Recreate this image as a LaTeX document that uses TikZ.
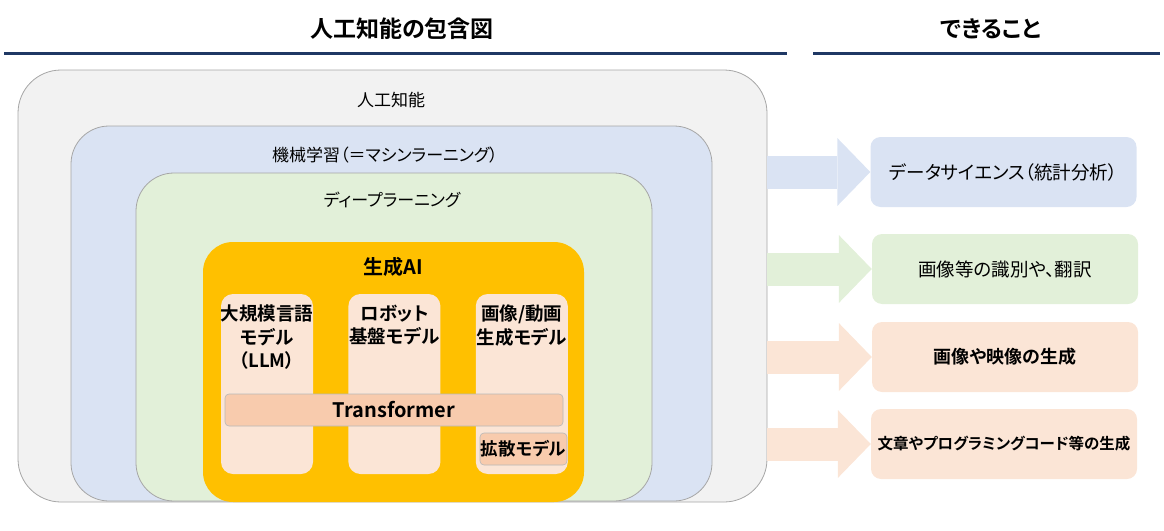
\documentclass[tikz,border=0pt]{standalone}
\usepackage{fontspec}
\setmainfont{Noto Sans CJK JP}[BoldFont={Noto Sans CJK JP Bold},RawFeature={+palt}]
\usetikzlibrary{positioning,arrows.meta}

\definecolor{navy}{HTML}{1F3864}
\definecolor{lineG}{HTML}{A6A6A6}
\definecolor{greyF}{HTML}{F2F2F2}
\definecolor{blueF}{HTML}{DAE3F3}
\definecolor{greenF}{HTML}{E2F0D9}
\definecolor{goldF}{HTML}{FFC000}
\definecolor{peachF}{HTML}{FBE5D6}
\definecolor{peachD}{HTML}{F8CBAD}

\begin{document}
\begin{tikzpicture}[x=1pt,y=-1pt,
  heading/.style={inner sep=0pt,font=\bfseries\fontsize{23}{26}\selectfont},
  area/.style={draw=lineG,line width=0.8pt,rounded corners=#1},
  lbl/.style={inner sep=0pt,font=\fontsize{17}{20}\selectfont},
  model/.style={fill=peachF,rounded corners=12pt,minimum width=92pt,minimum height=180pt},
  mtxt/.style={inner sep=0pt,align=center,font=\bfseries\fontsize{18.5}{23.5}\selectfont},
  bar/.style={fill=peachD,draw=lineG!80,line width=0.6pt,rounded corners=4pt,inner sep=0pt,minimum height=32pt},
  task/.style={rounded corners=10pt,minimum width=266pt,minimum height=70pt,inner sep=0pt,font=\fontsize{18.5}{22}\selectfont},
  bold/.style={font=\bfseries\fontsize{#1}{22}\selectfont},
  bigarrow/.style={line width=33pt,draw=#1,-{Triangle[length=33pt,width=68pt,line width=0pt]}}]

\useasboundingbox (0,0) rectangle (1164,530);

% headings
\node (title) [heading] at (402,29) {人工知能の包含図};
\node (title2) [heading] at (991,29) {できること};
\draw[navy,line width=3pt] (4,53) -- (787,53);
\draw[navy,line width=3pt] (813,53) -- (1160,53);

% nested areas
\node (ai) [area=43pt,fill=greyF,minimum width=749pt,minimum height=432pt] at (392.5,286) {};
\node (ml) [area=38pt,fill=blueF,minimum width=641pt,minimum height=375pt] at (391.5,313.5) {};
\node (dl) [area=38pt,fill=greenF,minimum width=516pt,minimum height=328pt] at (394,337) {};
\node (gen) [fill=goldF,rounded corners=30pt,minimum width=381pt,minimum height=260pt] at (393.5,372) {};
\node (ailbl) [lbl] at (391,100) {人工知能};
\node (mllbl) [lbl] at (385,155) {機械学習（＝マシンラーニング）};
\node (dllbl) [lbl] at (392,200) {ディープラーニング};
\node (genlbl) [inner sep=0pt,bold=20] at (393,267) {生成AI};

% models
\node (llm) [model] at (267,384) {};
\node (robot) [model,right=35pt of llm] {};
\node (img) [model,right=35pt of robot] {};
\node (llmtxt) [mtxt,below=11pt of llm.north] {大規模言語\\モデル\\（LLM）};
\node (robottxt) [mtxt,below=11pt of robot.north] {ロボット\\基盤モデル};
\node (imgtxt) [mtxt,below=11pt of img.north] {画像/動画\\生成モデル};
\node (tf) [bar,minimum width=338pt,bold=20] at (394,410) {Transformer};
\node (diff) [bar,minimum width=87pt,bold=17.5] at (523.5,449) {拡散モデル};

% what it can do
\node (ds) [task,fill=blueF] at (1003.5,172) {データサイエンス（統計分析）};
\node (rec) [task,fill=greenF] at (1005,269) {画像等の識別や、翻訳};
\node (pic) [task,fill=peachF,bold=18] at (1005,357) {画像や映像の生成};
\node (code) [task,fill=peachF,bold=15.5] at (1004,444) {文章やプログラミングコード等の生成};

% arrows
\draw[bigarrow=blueF] (ai.east |- ds) -- (ds.west);
\draw[bigarrow=greenF] (ai.east |- rec) -- (rec.west);
\draw[bigarrow=peachF] (ai.east |- pic) -- (pic.west);
\draw[bigarrow=peachF] (ai.east |- code) -- (code.west);
\end{tikzpicture}
\end{document}
